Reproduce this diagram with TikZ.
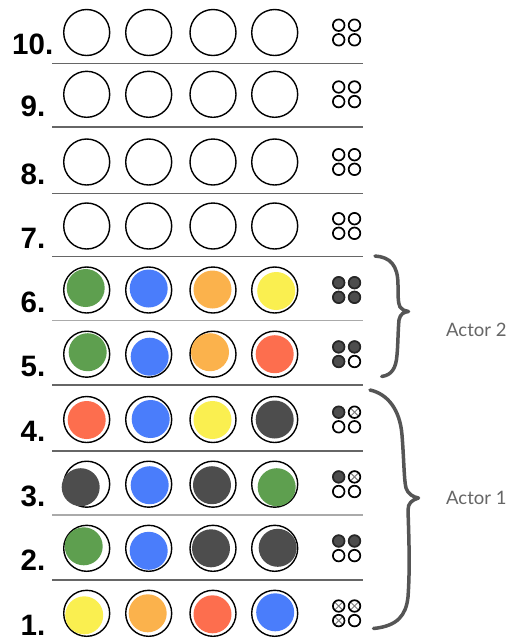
\documentclass[tikz,border=0pt]{standalone}
\usepackage{fontspec}
\setmainfont{Liberation Sans}
\newfontfamily\actorfont{Lato}
\definecolor{pgreen}{HTML}{5E9F4F}
\definecolor{pblue}{HTML}{4A7DFB}
\definecolor{porange}{HTML}{FBB24C}
\definecolor{pyellow}{HTML}{FAEF50}
\definecolor{pred}{HTML}{FD6E4E}
\definecolor{pdark}{HTML}{4D4D4D}
\definecolor{linegray}{HTML}{666666}
\definecolor{lightline}{HTML}{AAAAAA}
\definecolor{bracegray}{HTML}{555555}
\definecolor{textgray}{HTML}{666666}
\newcommand\mmpeg[3]{%
  \if#3f%
    \fill[pdark] (#1,#2) circle[radius=6.4pt];
    \draw[pegline,draw=black!85] (#1,#2) circle[radius=5.8pt];
  \else\if#3x%
    \draw[gray,line width=1pt] (#1-4,#2-4) -- (#1+4,#2+4) (#1-4,#2+4) -- (#1+4,#2-4);
    \draw[pegline] (#1,#2) circle[radius=5.8pt];
  \else
    \draw[pegline] (#1,#2) circle[radius=5.8pt];
  \fi\fi}
\tikzset{
  hole/.style={draw=black,line width=1.4pt},
  pegline/.style={draw=black,line width=1.7pt},
  rowline/.style={draw=linegray,line width=1.3pt},
  numlabel/.style={anchor=base west,inner sep=0pt,font=\bfseries\fontsize{29.5}{29.5}\selectfont},
  brace/.style={draw=bracegray,line width=3.5pt,line cap=round,line join=round},
  actor/.style={anchor=base west,inner sep=0pt,text=textgray,font=\actorfont\fontsize{18.5}{18.5}\selectfont}
}
\begin{document}
\begin{tikzpicture}[x=1pt,y=-1pt]
\useasboundingbox (0,0) rectangle (510,641);
\fill[white] (0,0) rectangle (510,641);
% row separators
\foreach \ly/\lc in {63.3/linegray,127/linegray,193.3/linegray,256.7/linegray,320.7/lightline,385/linegray,451/linegray,515/lightline,580/linegray}
  \draw[rowline,draw=\lc] (52,\ly) -- (363,\ly);
% numbers and holes
\foreach \r/\y/\nx in {10/32.5/12,9/94.3/20.5,8/162/20.5,7/226/20.5,6/290/20.5,5/354.2/20.5,4/419.5/20.5,3/484.2/20.5,2/548.3/20.5,1/613.3/20.5}{
  \node[numlabel] (n\r) at (\nx,\y+22) {\r.};
  \foreach \cx in {86.7,148.7,213,274.7}
    \draw[hole] (\cx,\y) circle[radius=23pt];
}
% coloured code pegs
\foreach \y/\cx/\c/\dx/\dy in {
  290/86.7/pgreen/-1/-2, 290/148.7/pblue/0/-1.5, 290/213/porange/-0.5/-0.5, 290/274.7/pyellow/1.5/1,
  354.2/86.7/pgreen/1/-2, 354.2/148.7/pblue/1/2.5, 354.2/213/porange/-3/-2, 354.2/274.7/pred/0/0,
  419.5/86.7/pred/0/0.5, 419.5/148.7/pblue/2/-0.5, 419.5/213/pyellow/-0.5/0.5, 419.5/274.7/pdark/0/0,
  484.2/86.7/pdark/-6/3, 484.2/148.7/pblue/1/1, 484.2/213/pdark/-1/1, 484.2/274.7/pgreen/2/3,
  548.3/86.7/pgreen/-3/-2, 548.3/148.7/pblue/0/2.5, 548.3/213/pdark/-2/0, 548.3/274.7/pdark/3/-0.5,
  613.3/86.7/pyellow/-2.5/2, 613.3/148.7/porange/-1/0, 613.3/213/pred/-0.5/1, 613.3/274.7/pblue/0.5/-1}
  \fill[\c] (\cx+\dx,\y+\dy) circle[radius=19pt];
% key pegs
\foreach \y/\a/\b/\c/\d in {32.5/e/e/e/e,94.3/e/e/e/e,162/e/e/e/e,226/e/e/e/e,290/f/f/f/f,354.2/f/f/f/e,419.5/f/x/e/e,484.2/f/x/e/e,548.3/f/f/e/e,613.3/x/x/x/e}{
  \mmpeg{338.7}{\y-7.3}{\a}
  \mmpeg{354.5}{\y-7.3}{\b}
  \mmpeg{338.7}{\y+7.3}{\c}
  \mmpeg{354.5}{\y+7.3}{\d}
}
% braces
\draw[brace] (375,256) .. controls (390,257) and (398,265) .. (398,285)
  .. controls (398,295) and (398,303) .. (400,307)
  .. controls (402,310) and (405,311) .. (408.5,311.5)
  .. controls (404,312) and (400,314) .. (399,320)
  .. controls (398,330) and (398,345) .. (397,355)
  .. controls (396,368) and (392,375) .. (381.7,376.5);
\draw[brace] (370,390) .. controls (388,394) and (400,410) .. (402,435)
  .. controls (404,460) and (404,480) .. (406,488)
  .. controls (408,494) and (413,497) .. (418.5,498)
  .. controls (412,500) and (408,503) .. (408,510)
  .. controls (409,540) and (410,570) .. (408,597)
  .. controls (406,615) and (398,626) .. (373.5,628.5);
\node[actor] (actor2) at (446,336) {Actor 2};
\node[actor] (actor1) at (446,504.3) {Actor 1};
\end{tikzpicture}
\end{document}
